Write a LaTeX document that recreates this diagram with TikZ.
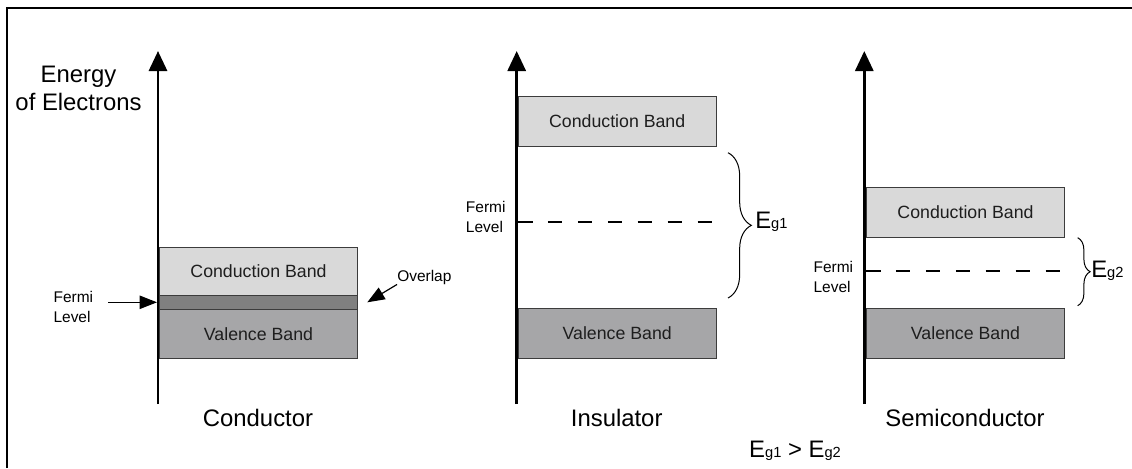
\documentclass[tikz,border=0pt]{standalone}
\usepackage{fontspec}
\setmainfont{Liberation Sans}
\usetikzlibrary{arrows.meta,decorations.pathreplacing}

\definecolor{cbgray}{RGB}{217,217,217}
\definecolor{vbgray}{RGB}{166,166,168}
\definecolor{ovgray}{RGB}{128,128,128}
\definecolor{edgegray}{RGB}{60,60,60}
\definecolor{txtgray}{RGB}{30,30,30}

\newcommand{\Egap}[1]{E\raisebox{-0.4pt}{\fontsize{11}{12}\selectfont g#1}}

\begin{document}
\begin{tikzpicture}[x=0.75pt,y=-0.75pt,
  axis/.style={line width=2.2pt,-{Triangle[length=15pt,width=13.5pt]}},
  band/.style={draw=edgegray,line width=0.75pt,inner sep=0pt,anchor=north west,
    minimum width=148.5pt,minimum height=37.5pt,font=\fontsize{13.3}{16}\selectfont,text=txtgray},
  title/.style={font=\fontsize{17.9}{21}\selectfont,inner sep=0pt},
  small/.style={font=\fontsize{11.6}{15}\selectfont,align=left,anchor=west,inner sep=0pt},
  fermi/.style={line width=1.6pt,dash pattern=on 10.9pt off 11.55pt},
  gap/.style={decorate,decoration={brace,amplitude=#1},line width=0.75pt},
  ptr/.style={line width=0.9pt,-{Triangle[length=13pt,width=10pt]}}]
\useasboundingbox (0,0) rectangle (1132,468);
\draw[line width=1.5pt] (7,468) -- (7,8) -- (1132,8);

\node[title,align=center] (energy) at (78.5,88) {Energy\\of Electrons};

\coordinate (cond-bot) at (158,404);
\coordinate (cond-top) at (158,51);
\draw[axis] (cond-bot) -- (cond-top);
\node[band,fill=cbgray,minimum height=36pt] (cond-cb) at (159,247) {Conduction Band};
\node[band,fill=ovgray,minimum height=10.5pt] (cond-ov) at (159,295) {};
\node[band,fill=vbgray,minimum height=36.75pt] (cond-vb) at (159,309) {Valence Band};
\node[small] (cond-fl) at (53.3,307) {Fermi\\Level};
\coordinate (cfermi-tail) at (108,302.3);
\coordinate (cfermi-tip) at (157,302.3);
\draw[ptr] (cfermi-tail) -- (cfermi-tip);
\node[small] (ov-lbl) at (397,277) {Overlap};
\coordinate (ov-tip) at (367.3,302.3);
\draw[ptr] (ov-lbl.south west) -- (ov-tip);
\node[title] (cond-title) at (258,418) {Conductor};

\coordinate (ins-bot) at (516.7,404);
\coordinate (ins-top) at (516.7,51);
\draw[axis] (ins-bot) -- (ins-top);
\node[band,fill=cbgray] (ins-cb) at (517.7,96) {Conduction Band};
\node[band,fill=vbgray] (ins-vb) at (517.7,307.7) {Valence Band};
\node[small] (ins-fl) at (465.7,216.8) {Fermi\\Level};
\coordinate (ins-fa) at (518,221.7);
\coordinate (ins-fb) at (712,221.7);
\draw[fermi] (ins-fa) -- (ins-fb);
\coordinate (ins-ga) at (728,152.7);
\coordinate (ins-gb) at (728,298);
\draw[gap=17.5pt] (ins-ga) -- (ins-gb);
\node[title,anchor=west] (ins-eg) at (755,221.7) {\Egap{1}};
\node[title] (ins-title) at (616.7,418) {Insulator};

\coordinate (semi-bot) at (864.3,404);
\coordinate (semi-top) at (864.3,51);
\draw[axis] (semi-bot) -- (semi-top);
\node[band,fill=cbgray] (semi-cb) at (866,186.7) {Conduction Band};
\node[band,fill=vbgray] (semi-vb) at (866,307.7) {Valence Band};
\node[small] (semi-fl) at (813.3,276.8) {Fermi\\Level};
\coordinate (semi-fa) at (866,270.7);
\coordinate (semi-fb) at (1060,270.7);
\draw[fermi] (semi-fa) -- (semi-fb);
\coordinate (semi-ga) at (1077.7,237.7);
\coordinate (semi-gb) at (1077.7,305.7);
\draw[gap=9.3pt] (semi-ga) -- (semi-gb);
\node[title,anchor=west] (semi-eg) at (1091,270.7) {\Egap{2}};
\node[title] (semi-title) at (965,418) {Semiconductor};

\node[title] (eg-cmp) at (795,451) {\Egap{1} > \Egap{2}};
\end{tikzpicture}
\end{document}
